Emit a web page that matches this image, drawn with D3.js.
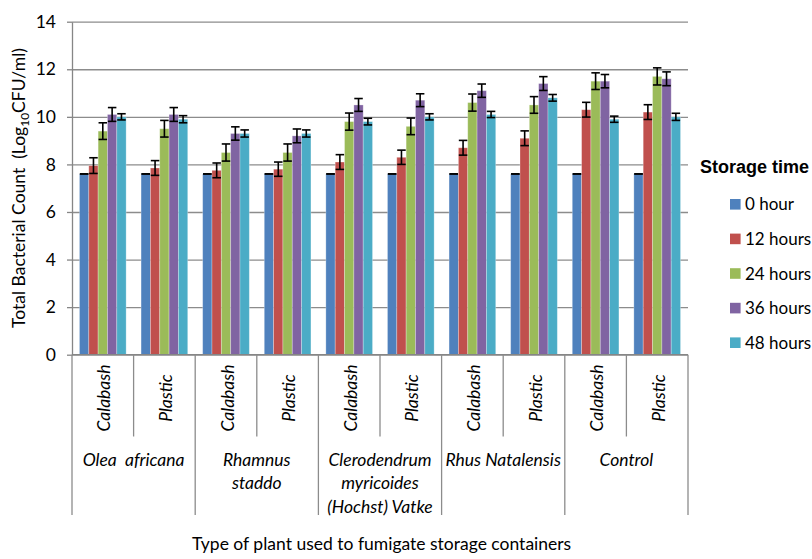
<!DOCTYPE html>
<html>
<head>
<meta charset="utf-8">
<script src="https://cdn.jsdelivr.net/npm/d3@7"></script>
<style>
  body { margin: 0; background: #fff; }
  svg { display: block; }
  text { font-family: Lato, "Open Sans", sans-serif; fill: #000; }
</style>
</head>
<body>
<div class="chart-container"></div>
<script>
var w = 812;
var h = 559;

// categories
var containers = ["Calabash", "Plastic", "Calabash", "Plastic", "Calabash", "Plastic", "Calabash", "Plastic", "Calabash", "Plastic"];
var plants = [["Olea\u00a0\u00a0africana"], ["Rhamnus", "staddo"], ["Clerodendrum", "myricoides", "(Hochst) Vatke"], ["Rhus Natalensis"], ["Control"]];
var seriesNames = ["0 hour", "12 hours", "24 hours", "36 hours", "48 hours"];
var yTicks = [0, 2, 4, 6, 8, 10, 12, 14];

// values (Log10 CFU/ml)
var hour0  = [7.6, 7.6, 7.6, 7.6, 7.6, 7.6, 7.6, 7.6, 7.6, 7.6];
var hour12 = [7.95, 7.85, 7.75, 7.8, 8.1, 8.3, 8.7, 9.1, 10.3, 10.2];
var hour24 = [9.4, 9.5, 8.5, 8.5, 9.8, 9.6, 10.6, 10.5, 11.5, 11.7];
var hour36 = [10.1, 10.1, 9.3, 9.2, 10.5, 10.7, 11.1, 11.4, 11.5, 11.6];
var hour48 = [10.0, 9.9, 9.3, 9.3, 9.8, 10.0, 10.1, 10.8, 9.9, 10.0];

// error bar half widths
var err0  = [0, 0, 0, 0, 0, 0, 0, 0, 0, 0];
var err12 = [0.33, 0.31, 0.31, 0.3, 0.31, 0.3, 0.31, 0.31, 0.31, 0.31];
var err24 = [0.35, 0.35, 0.36, 0.36, 0.36, 0.35, 0.36, 0.35, 0.35, 0.36];
var err36 = [0.29, 0.29, 0.28, 0.29, 0.27, 0.27, 0.28, 0.29, 0.28, 0.29];
var err48 = [0.13, 0.15, 0.15, 0.15, 0.14, 0.13, 0.13, 0.14, 0.13, 0.15];

var allValues = [hour0, hour12, hour24, hour36, hour48];
var allErrors = [err0, err12, err24, err36, err48];
var colors = ["#4F81BD", "#C0504D", "#9BBB59", "#8064A2", "#4BACC6"];

var plotLeft = 72, plotRight = 688, plotTop = 21.7, plotBottom = 354.7;

var svg = d3.select(".chart-container")
            .append("svg")
            .attr("width", w)
            .attr("height", h);

var x0 = d3.scaleBand()
           .domain(d3.range(containers.length))
           .range([plotLeft, plotRight]);

var x1 = d3.scaleBand()
           .domain(d3.range(seriesNames.length))
           .range([0, x0.bandwidth()])
           .paddingOuter(0.8);

var yScale = d3.scaleLinear()
               .domain([0, 14])
               .range([plotBottom, plotTop]);

//gridlines
svg.append("g")
   .attr("class", "grid")
   .attr("transform", "translate(" + plotLeft + ",0)")
   .call(d3.axisLeft(yScale).tickValues(yTicks).tickSize(-(plotRight - plotLeft)).tickFormat(""))
   .call(function(g) {
       g.select(".domain").remove();
       g.selectAll("line").attr("stroke", "#8c8c8c").attr("stroke-width", 1.3);
   });

//y axis
svg.append("g")
   .attr("class", "axis")
   .attr("transform", "translate(" + plotLeft + ",0)")
   .call(d3.axisLeft(yScale).tickValues(yTicks).tickSize(5).tickPadding(11).tickSizeOuter(0))
   .call(function(g) {
       g.select(".domain").attr("stroke", "#868686").attr("stroke-width", 1.3);
       g.selectAll("line").attr("stroke", "#868686").attr("stroke-width", 1.3);
       g.selectAll("text").style("font-family", "Lato").style("font-size", "17.5px").attr("fill", "#000");
   });

// bars
var rows = [];
containers.forEach(function(c, i) {
    allValues.forEach(function(vals, s) {
        rows.push({ cat: i, s: s, v: vals[i], e: allErrors[s][i] });
    });
});

svg.selectAll("rect.bar")
   .data(rows)
   .enter()
   .append("rect")
   .attr("class", "bar")
   .attr("x", function(d) { return x0(d.cat) + x1(d.s); })
   .attr("y", function(d) { return yScale(d.v); })
   .attr("width", x1.bandwidth())
   .attr("height", function(d) { return yScale(0) - yScale(d.v); })
   .attr("fill", function(d) { return colors[d.s]; })
   .attr("stroke", "rgba(255,255,255,0.35)")
   .attr("stroke-width", 0.8);

// error bars
var capW = 8.5;
var eb = svg.selectAll("g.err")
            .data(rows)
            .enter()
            .append("g")
            .attr("class", "err")
            .attr("stroke", "#000")
            .attr("stroke-width", 1.6);

eb.append("line")
  .attr("x1", function(d) { return x0(d.cat) + x1(d.s) + x1.bandwidth() / 2; })
  .attr("x2", function(d) { return x0(d.cat) + x1(d.s) + x1.bandwidth() / 2; })
  .attr("y1", function(d) { return yScale(d.v + d.e); })
  .attr("y2", function(d) { return yScale(d.v - d.e); });

[1, -1].forEach(function(sign) {
    eb.append("line")
      .attr("x1", function(d) { return x0(d.cat) + x1(d.s) + x1.bandwidth() / 2 - capW / 2; })
      .attr("x2", function(d) { return x0(d.cat) + x1(d.s) + x1.bandwidth() / 2 + capW / 2; })
      .attr("y1", function(d) { return yScale(d.v + sign * d.e); })
      .attr("y2", function(d) { return yScale(d.v + sign * d.e); });
});

// x axis line
svg.append("line")
   .attr("x1", plotLeft).attr("x2", plotRight)
   .attr("y1", plotBottom).attr("y2", plotBottom)
   .attr("stroke", "#868686").attr("stroke-width", 1.3);

// category separators
var sep = svg.append("g").attr("stroke", "#8c8c8c").attr("stroke-width", 1.3);
d3.range(containers.length + 1).forEach(function(i) {
    var xx = i < containers.length ? x0(i) : plotRight;
    sep.append("line")
       .attr("x1", xx).attr("x2", xx)
       .attr("y1", plotBottom)
       .attr("y2", i % 2 == 0 ? 515 : 436.5);
});

// container labels (rotated)
svg.selectAll("text.cont")
   .data(containers)
   .enter()
   .append("text")
   .attr("class", "cont")
   .attr("transform", function(d, i) {
       return "translate(" + (x0(i) + x0.bandwidth() / 2 + 7.5) + ",398) rotate(-90)";
   })
   .attr("text-anchor", "middle")
   .style("font-size", "17.5px")
   .style("font-style", "italic")
   .text(function(d) { return d; });

// plant labels
var pl = svg.selectAll("text.plant")
            .data(plants)
            .enter()
            .append("text")
            .attr("class", "plant")
            .attr("text-anchor", "middle")
            .style("font-size", "17.5px")
            .style("font-style", "italic");

pl.selectAll("tspan")
  .data(function(d, i) { return d.map(function(t) { return { t: t, i: i }; }); })
  .enter()
  .append("tspan")
  .attr("x", function(d) { return x0(d.i * 2 + 1); })
  .attr("y", function(d, j) { return 466 + j * 23.3; })
  .text(function(d) { return d.t; });

// axis titles
svg.append("text")
   .attr("x", 381.6)
   .attr("y", 550)
   .attr("text-anchor", "middle")
   .style("font-size", "17.5px")
   .text("Type of plant used to fumigate storage containers");

var yt = svg.append("text")
            .attr("transform", "translate(25,188) rotate(-90)")
            .attr("text-anchor", "middle")
            .style("font-size", "17.5px");
yt.append("tspan").text("Total Bacterial Count\u00a0\u00a0(Log");
yt.append("tspan").attr("dy", 4).style("font-size", "12px").text("10");
yt.append("tspan").attr("dy", -4).text("CFU/ml)");

// legend
svg.append("text")
   .attr("x", 700)
   .attr("y", 173)
   .style("font-family", "'Liberation Sans', Arial, sans-serif")
   .style("font-weight", "bold")
   .style("font-size", "18px")
   .text("Storage time");

var lg = svg.selectAll("g.leg")
            .data(seriesNames)
            .enter()
            .append("g")
            .attr("class", "leg")
            .attr("transform", function(d, i) { return "translate(730," + (204.3 + i * 34.6) + ")"; });

lg.append("rect")
  .attr("x", 0).attr("y", -5.3)
  .attr("width", 10.6).attr("height", 10.6)
  .attr("fill", function(d, i) { return colors[i]; });

lg.append("text")
  .attr("x", 15)
  .attr("y", 6)
  .style("font-size", "17px")
  .text(function(d) { return d; });
</script>
</body>
</html>
